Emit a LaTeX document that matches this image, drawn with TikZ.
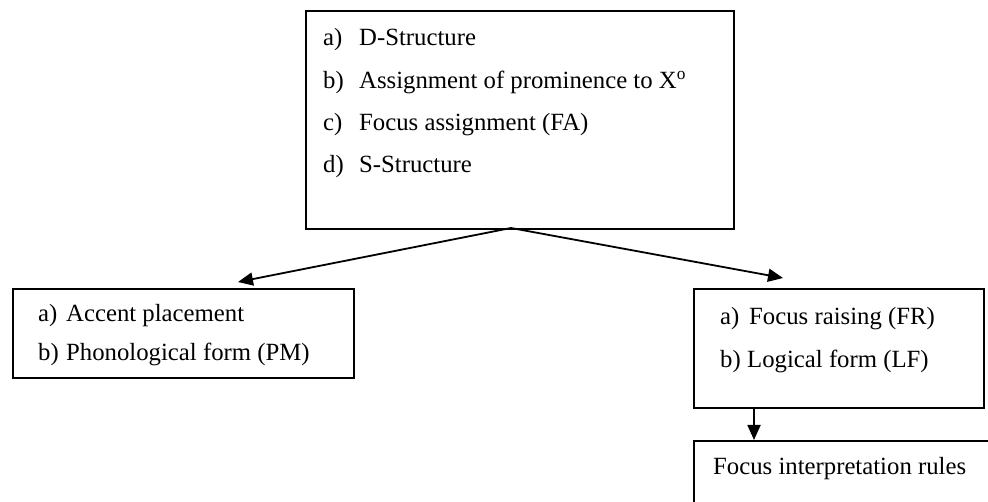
\documentclass[tikz,border=0pt]{standalone}
\usepackage{fontspec}
\setmainfont{Liberation Serif}
\usetikzlibrary{arrows.meta}
\begin{document}
\begin{tikzpicture}[x=1pt,y=-1pt,
  stagebox/.style={draw,line width=1.8pt,rectangle,anchor=north west,inner sep=0pt},
  item/.style={anchor=base west,inner sep=0pt,font=\fontsize{24.75}{29}\selectfont},
  flow/.style={line width=1.8pt,-{Triangle[length=15pt,width=13pt]}}]
\useasboundingbox (0,0) rectangle (988,502);
\begin{scope}
\clip (0,0) rectangle (988,502);
% derivation stages
\node[stagebox,minimum width=428pt,minimum height=218pt] (syn) at (305,10) {};
\node[stagebox,minimum width=341pt,minimum height=89pt] (pf) at (12,288) {};
\node[stagebox,minimum width=290pt,minimum height=119pt] (lf) at (693,288) {};
\node[stagebox,minimum width=320pt,minimum height=100pt] (rules) at (693,440) {};
\end{scope}
% syntax box contents
\node[item] (sa) at (323,46) {a)};
\node[item] (sat) at (359,46) {D-Structure};
\node[item] (sb) at (323,89) {b)};
\node[item] (sbt) at (359,89) {Assignment of prominence to X\textsuperscript{o}};
\node[item] (sc) at (323,131) {c)};
\node[item] (sct) at (359,131) {Focus assignment (FA)};
\node[item] (sd) at (323,173) {d)};
\node[item] (sdt) at (359,173) {S-Structure};
% phonological branch
\node[item] (pa) at (38,322) {a)};
\node[item] (pat) at (66,322) {Accent placement};
\node[item] (pb) at (38,361) {b)};
\node[item] (pbt) at (66,361) {Phonological form (PM)};
% logical branch
\node[item] (la) at (720,325) {a)};
\node[item] (lat) at (749,325) {Focus raising (FR)};
\node[item] (lb) at (720,368) {b)};
\node[item] (lbt) at (747,368) {Logical form (LF)};
\node[item] (rt) at (713,474) {Focus interpretation rules};
% connectors
\coordinate (split) at (511,228);
\coordinate (pfin) at (238,282);
\coordinate (lfin) at (783,278);
\draw[flow] (split) -- (pfin);
\draw[flow] (split) -- (lfin);
\draw[flow] (lf.south west -| 754,0) -- (rules.north west -| 754,0);
\end{tikzpicture}
\end{document}
